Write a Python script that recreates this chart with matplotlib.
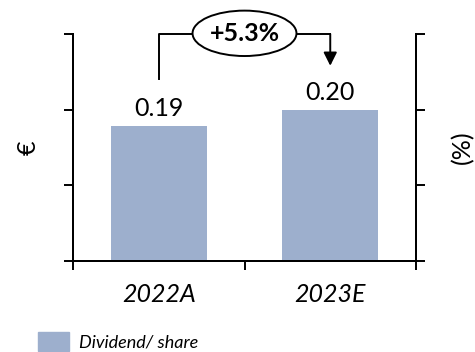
import matplotlib
matplotlib.use('Agg')
import matplotlib.pyplot as plt
from matplotlib.patches import Ellipse, Patch

plt.rcParams['font.family'] = ['Lato', 'DejaVu Sans']

# data
years = ['2022A', '2023E']
dividend = [0.179, 0.200]
value_labels = ['0.19', '0.20']
growth_label = '+5.3%'
legend_label = 'Dividend/ share'

bar_color = '#9DAFCD'
lw = 1.4

fig = plt.figure(figsize=(4.75, 3.52), dpi=100)
ax = fig.add_axes([0.1537, 0.2585, 0.7221, 0.6449])

x = list(range(len(years)))
ax.bar(x, dividend, width=0.56, color=bar_color, zorder=2)

for xi, v, lab in zip(x, dividend, value_labels):
    ax.annotate(lab, (xi, v), xytext=(0, 4), textcoords='offset points',
                ha='center', va='bottom', fontsize=18)

ax.set_xlim(-0.5, 1.5)
ax.set_ylim(0, 0.3)
ax.set_yticks([0, 0.1, 0.2, 0.3])
ax.set_yticklabels([])
ax.set_xticks(x)
ax.set_xticklabels(years, fontsize=18, style='italic')
ax.tick_params(axis='x', which='major', length=0, pad=16)
ax.set_xticks([-0.5, 0.5, 1.5], minor=True)
ax.tick_params(axis='x', which='minor', length=6.5, width=lw, direction='out')
ax.tick_params(axis='y', length=6.5, width=lw, direction='out')
ax.spines['top'].set_visible(False)
for s in ['left', 'right', 'bottom']:
    ax.spines[s].set_linewidth(lw)
ax.set_ylabel('€', fontsize=18, labelpad=14)

ax2 = ax.twinx()
ax2.set_ylim(0, 0.3)
ax2.set_yticks([0, 0.1, 0.2, 0.3])
ax2.set_yticklabels([])
ax2.tick_params(axis='y', length=6.5, width=lw, direction='out')
ax2.spines['top'].set_visible(False)
for s in ['left', 'right', 'bottom']:
    ax2.spines[s].set_linewidth(lw)
ax2.set_ylabel('(%)', fontsize=18, labelpad=15)

# growth bracket
ax.plot([0, 0, 1], [0.24, 0.3, 0.3], color='black', lw=lw, clip_on=False, zorder=5)
ax.annotate('', xy=(1, 0.258), xytext=(1, 0.3),
            arrowprops=dict(arrowstyle='-|>,head_length=0.8,head_width=0.4',
                            color='black', lw=lw, shrinkA=0, shrinkB=0),
            annotation_clip=False, zorder=5)
ax.add_patch(Ellipse((0.5, 1.003), 0.303, 0.2, transform=ax.transAxes,
                     facecolor='white', edgecolor='black', lw=lw,
                     clip_on=False, zorder=6))
ax.text(0.5, 1.003, growth_label, transform=ax.transAxes, ha='center',
        va='center', fontsize=18, fontweight='bold', zorder=7)

fig.legend(handles=[Patch(color=bar_color, label=legend_label)],
           loc='upper left', bbox_to_anchor=(0.08, 0.0568), frameon=False,
           prop={'size': 13, 'style': 'italic'}, handlelength=1.72,
           handleheight=1.22, handletextpad=0.55, borderpad=0, borderaxespad=0)

fig.savefig('out.png', dpi=100)
